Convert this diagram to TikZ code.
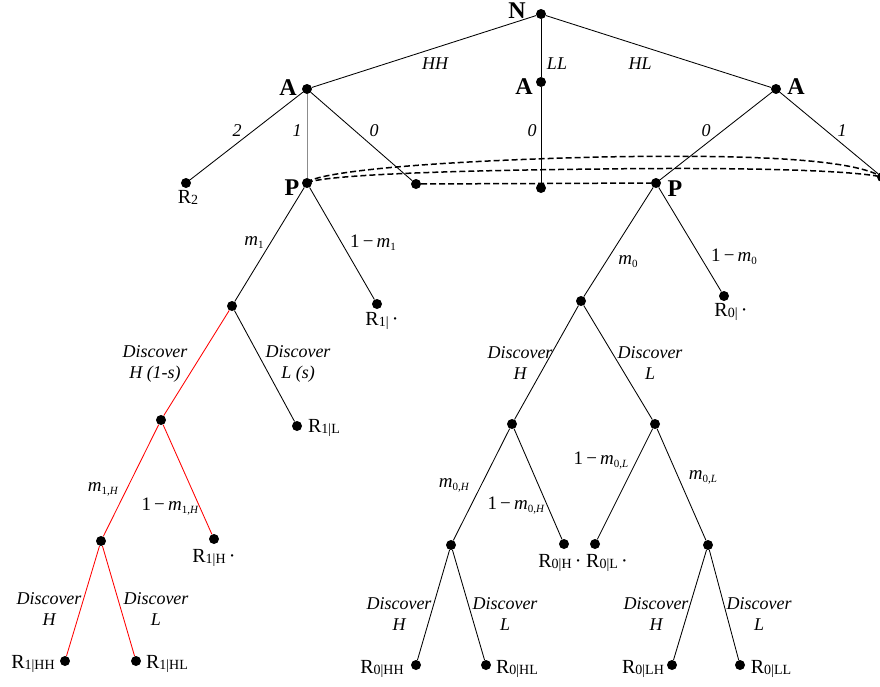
\documentclass[tikz,border=0pt]{standalone}
\usepackage{fontspec}
\setmainfont{Liberation Serif}
\newcommand{\msb}[1]{\raisebox{-3pt}{\fontsize{11}{11}\selectfont #1}}
\newcommand{\rsb}[1]{\raisebox{-1pt}{\fontsize{14}{14}\selectfont #1}}
\begin{document}
\begin{tikzpicture}[x=1pt,y=-1pt,
  dot/.style={circle,fill=black,inner sep=0pt,minimum size=10pt},
  br/.style={line width=0.85pt,black},
  rbr/.style={line width=0.85pt,red},
  gbr/.style={line width=0.85pt,black!45},
  lab/.style={font=\fontsize{18}{21}\selectfont\itshape,inner sep=0pt,align=center},
  mlab/.style={font=\fontsize{19}{20}\selectfont,inner sep=0pt},
  pl/.style={font=\fontsize{24}{24}\selectfont\bfseries,inner sep=0pt},
  rl/.style={font=\fontsize{20}{20}\selectfont,inner sep=0pt},
  ds/.style={line width=1.5pt,dash pattern=on 6pt off 3pt}]
\useasboundingbox (0,0) rectangle (880,686);
% nodes
\node[dot] (N) at (541,14) {};
\node[dot] (AL) at (307,89) {};
\node[dot] (AM) at (541,82) {};
\node[dot] (AR) at (776,89) {};
\node[dot] (R2) at (186,183) {};
\node[dot] (PL) at (307,183) {};
\node[dot] (X0) at (416,184) {};
\node[dot] (M0) at (541,188) {};
\node[dot] (PR) at (656,183) {};
\node[dot] (ER) at (882,177) {};
% left subtree
\node[dot] (n1) at (232,306) {};
\node[dot] (r1d) at (377,304) {};
\node[dot] (n1H) at (161,420) {};
\node[dot] (r1L) at (297,426) {};
\node[dot] (n1Hm) at (101,541) {};
\node[dot] (r1H) at (214,539) {};
\node[dot] (r1HH) at (65,661) {};
\node[dot] (r1HL) at (136,661) {};
% right subtree
\node[dot] (n0) at (581,301) {};
\node[dot] (r0d) at (724,296) {};
\node[dot] (n0H) at (512,424) {};
\node[dot] (n0L) at (655,424) {};
\node[dot] (n0Hm) at (451,545) {};
\node[dot] (r0H) at (564,544) {};
\node[dot] (r0L) at (595,544) {};
\node[dot] (n0Lm) at (708,545) {};
\node[dot] (r0HH) at (416,665) {};
\node[dot] (r0HL) at (486,665) {};
\node[dot] (r0LH) at (672,665) {};
\node[dot] (r0LL) at (740,665) {};
% edges
\draw[br] (N) -- (AL);
\draw[br] (N) -- (AM);
\draw[br] (N) -- (AR);
\draw[br] (AL) -- (R2);
\draw[gbr] (AL) -- (PL);
\draw[br] (AL) -- (X0);
\draw[br] (AM) -- (M0);
\draw[br] (AR) -- (PR);
\draw[br] (AR) -- (ER);
\draw[br] (PL) -- (n1);
\draw[br] (PL) -- (r1d);
\draw[rbr] (n1) -- (n1H);
\draw[br] (n1) -- (r1L);
\draw[rbr] (n1H) -- (n1Hm);
\draw[rbr] (n1H) -- (r1H);
\draw[rbr] (n1Hm) -- (r1HH);
\draw[rbr] (n1Hm) -- (r1HL);
\draw[br] (PR) -- (n0);
\draw[br] (PR) -- (r0d);
\draw[br] (n0) -- (n0H);
\draw[br] (n0) -- (n0L);
\draw[br] (n0H) -- (n0Hm);
\draw[br] (n0H) -- (r0H);
\draw[br] (n0L) -- (r0L);
\draw[br] (n0L) -- (n0Lm);
\draw[br] (n0Hm) -- (r0HH);
\draw[br] (n0Hm) -- (r0HL);
\draw[br] (n0Lm) -- (r0LH);
\draw[br] (n0Lm) -- (r0LL);
% information set
\draw[ds] (X0) -- (PR);
\draw[ds] (PL.center) .. controls (312,174) and (400,162) .. (600,157) .. controls (760,154) and (855,160) .. (ER.center);
\draw[ds] (PL.center) .. controls (317,177) and (400,171) .. (600,169) .. controls (760,167) and (855,171) .. (ER.center);
% player labels
\node[pl] (lN) at (517,11) {N};
\node[pl] (lAL) at (288,88) {A};
\node[pl] (lAM) at (524,87) {A};
\node[pl] (lAR) at (796,87) {A};
\node[pl] (lPL) at (292,188) {P};
\node[pl] (lPR) at (675,189) {P};
% action labels
\node[lab] (tHH) at (435,64) {HH};
\node[lab] (tLL) at (557,64) {LL};
\node[lab] (tHL) at (640,64) {HL};
\node[lab] (t2) at (237,131) {2};
\node[lab] (t1) at (297,131) {1};
\node[lab] (t0a) at (374,131) {0};
\node[lab] (t0b) at (532,131) {0};
\node[lab] (t0c) at (706,131) {0};
\node[lab] (t1c) at (842,131) {1};
\node[mlab] (tm1) at (254,243) {\textit{m}\msb{1}};
\node[mlab] (t1m1) at (373,243) {1\,−\,\textit{m}\msb{1}};
\node[lab] (tdH1) at (155,364) {Discover\\H (1-s)};
\node[lab] (tdL1) at (298,364) {Discover\\L (s)};
\node[mlab] (tm1H) at (103,489) {\textit{m}\msb{1,\textit{H}}};
\node[mlab] (t1m1H) at (170,507) {1\,−\,\textit{m}\msb{1,\textit{H}}};
\node[lab] (tdH2) at (49,609) {Discover\\H};
\node[lab] (tdL2) at (156,609) {Discover\\L};
\node[mlab] (tm0) at (628,262) {\textit{m}\msb{0}};
\node[mlab] (t1m0) at (734,257) {1\,−\,\textit{m}\msb{0}};
\node[lab] (tdH3) at (520,363) {Discover\\H};
\node[lab] (tdL3) at (650,363) {Discover\\L};
\node[mlab] (tm0H) at (454,485) {\textit{m}\msb{0,\textit{H}}};
\node[mlab] (t1m0H) at (516,506) {1\,−\,\textit{m}\msb{0,\textit{H}}};
\node[mlab] (t1m0L) at (601,461) {1\,−\,\textit{m}\msb{0,\textit{L}}};
\node[mlab] (tm0L) at (703,477) {\textit{m}\msb{0,\textit{L}}};
\node[lab] (tdH4) at (399,614) {Discover\\H};
\node[lab] (tdL4) at (505,614) {Discover\\L};
\node[lab] (tdH5) at (656,614) {Discover\\H};
\node[lab] (tdL5) at (759,614) {Discover\\L};
% payoff labels
\node[rl] (lR2) at (188,197) {R\rsb{2}};
\node[rl] (lr1d) at (382,321) {R\rsb{1|}\,·};
\node[rl] (lr1L) at (324,428) {R\rsb{1|L}};
\node[rl] (lr1H) at (214,558) {R\rsb{1|H}\,·};
\node[rl] (lr1HH) at (33,664) {R\rsb{1|HH}};
\node[rl] (lr1HL) at (167,664) {R\rsb{1|HL}};
\node[rl] (lr0d) at (731,312) {R\rsb{0|}\,·};
\node[rl] (lr0H) at (560,563) {R\rsb{0|H}\,·};
\node[rl] (lr0L) at (607,563) {R\rsb{0|L}\,·};
\node[rl] (lr0HH) at (382,669) {R\rsb{0|HH}};
\node[rl] (lr0HL) at (517,669) {R\rsb{0|HL}};
\node[rl] (lr0LH) at (643,669) {R\rsb{0|LH}};
\node[rl] (lr0LL) at (771,669) {R\rsb{0|LL}};
\end{tikzpicture}
\end{document}
